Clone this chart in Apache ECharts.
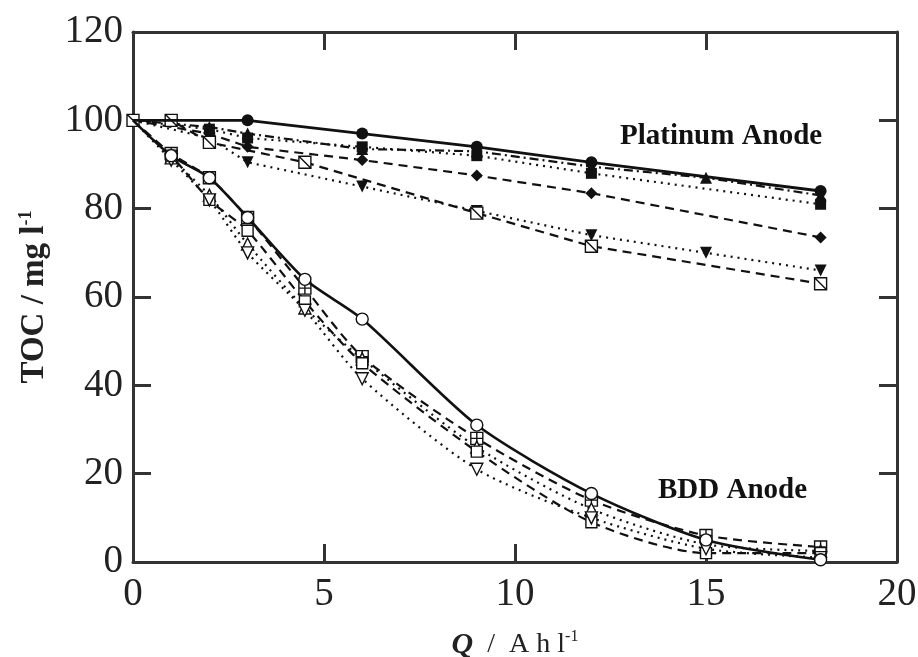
<!DOCTYPE html>
<html>
<head>
<meta charset="utf-8">
<script src="https://cdn.jsdelivr.net/npm/echarts@6/dist/echarts.min.js"></script>
<style>
  html, body { margin: 0; background: #fff; }
  #chart { width: 918px; height: 657px; }
</style>
</head>
<body>
<div id="chart"></div>
<script>
// Platinum anode (filled markers)
const ptCircleQ = [0, 3, 6, 9, 12, 18];
const ptCircleToc = [100, 100, 97, 94, 90.5, 84];
const ptTriQ = [0, 2, 3, 6, 9, 12, 15, 18];
const ptTriToc = [100, 98.5, 97, 93.5, 93, 89.5, 87, 83];
const ptSquareQ = [0, 2, 3, 6, 9, 12, 18];
const ptSquareToc = [100, 98, 96, 94, 92, 88, 81];
const ptDiamondQ = [0, 2, 3, 6, 9, 12, 18];
const ptDiamondToc = [100, 97, 94, 91, 87.5, 83.5, 73.5];
const ptInvTriQ = [0, 2, 3, 6, 9, 12, 15, 18];
const ptInvTriToc = [100, 96, 90.5, 85, 79.5, 74, 70, 66];
const ptOpenSqQ = [0, 1, 2, 4.5, 9, 12, 18];
const ptOpenSqToc = [100, 100, 95, 90.5, 79, 71.5, 63];

// BDD anode (open markers)
const bddQ = [0, 1, 2, 3, 4.5, 6, 9, 12, 15, 18];
const bddCircleToc = [100, 92, 87, 78, 64, 55, 31, 15.5, 5, 0.5];
const bddGridSqToc = [100, 92.5, 87, 78, 62, 46.5, 28, 14, 6, 3.4];
const bddTriToc = [100, 91.5, 83, 72, 57.5, 46, 26, 12, 4, 2.5];
const bddSquareToc = [100, 92, 82, 75, 59, 45, 25, 9, 2, 2];
const bddInvTriToc = [100, 91, 82, 70, 57, 41.5, 21, 10, 3, 1];

const xTicks = [0, 5, 10, 15, 20];
const yTicks = [0, 20, 40, 60, 80, 100, 120];

const FONT = "'Liberation Serif', 'DejaVu Serif', serif";
const INK = "#111";
const AXIS = "#333";

const SLASH_SQ = "path://M0,0H10V10H0Z M0,0L10,10";
const GRID_SQ = "path://M0,0H10V10H0Z M5,0V10 M0,5H10";

const DASH = [9, 6];
const DOT = [2, 5];
const DASHDOT = [9, 4, 2, 4];

const makeSeries = (name, xs, ys, opt) => ({
  name: name,
  type: "line",
  smooth: opt.smooth || 0,
  symbol: opt.symbol,
  symbolSize: opt.size || 12,
  symbolRotate: opt.rotate || 0,
  symbolKeepAspect: true,
  showAllSymbol: true,
  lineStyle: { color: INK, width: opt.width || 2.2, type: opt.line },
  itemStyle: {
    color: opt.open ? "#fff" : INK,
    borderColor: INK,
    borderWidth: opt.open ? 1.4 : 0,
  },
  emphasis: { disabled: true },
  data: xs.map((x, i) =>
    i === 0 && !opt.showFirst
      ? { value: [x, ys[i]], symbol: "none" }
      : [x, ys[i]]
  ),
  z: opt.z || 2,
});

const series = [
  makeSeries("Pt circle", ptCircleQ, ptCircleToc, { symbol: "circle", line: "solid", width: 2.8, z: 3 }),
  makeSeries("Pt triangle", ptTriQ, ptTriToc, { symbol: "triangle", line: DASHDOT }),
  makeSeries("Pt square", ptSquareQ, ptSquareToc, { symbol: "rect", line: DOT, size: 11 }),
  makeSeries("Pt diamond", ptDiamondQ, ptDiamondToc, { symbol: "diamond", line: DASH }),
  makeSeries("Pt inv triangle", ptInvTriQ, ptInvTriToc, { symbol: "triangle", rotate: 180, line: DOT }),
  makeSeries("Pt open square", ptOpenSqQ, ptOpenSqToc, { symbol: SLASH_SQ, open: true, line: DASH, showFirst: true }),
  makeSeries("BDD circle", bddQ, bddCircleToc, { symbol: "circle", open: true, line: "solid", width: 2.6, smooth: 0.25, z: 3 }),
  makeSeries("BDD grid square", bddQ, bddGridSqToc, { symbol: GRID_SQ, open: true, line: DASH, smooth: 0.25 }),
  makeSeries("BDD triangle", bddQ, bddTriToc, { symbol: "triangle", open: true, line: DOT, smooth: 0.25 }),
  makeSeries("BDD square", bddQ, bddSquareToc, { symbol: "rect", open: true, line: DASH, smooth: 0.25, size: 11 }),
  makeSeries("BDD inv triangle", bddQ, bddInvTriToc, { symbol: "triangle", rotate: 180, open: true, line: DOT, smooth: 0.25 }),
];

const axisLine = { show: true, onZero: false, lineStyle: { color: AXIS, width: 3 } };
const axisTick = { show: true, inside: true, length: 18, lineStyle: { color: AXIS, width: 3 } };

const option = {
  animation: false,
  backgroundColor: "#fff",
  grid: { left: 133, right: 21, top: 32, bottom: 95, containLabel: false, outerBoundsMode: "none" },
  xAxis: [
    {
      type: "value",
      position: "bottom",
      min: xTicks[0],
      max: xTicks[xTicks.length - 1],
      interval: xTicks[1] - xTicks[0],
      axisLine: axisLine,
      axisTick: axisTick,
      splitLine: { show: false },
      axisLabel: { fontFamily: FONT, fontSize: 39, color: "#222", margin: 13 },
      name: "{q|Q}{t|  /  A h l}{s|-1}",
      nameLocation: "middle",
      nameGap: 67,
      nameTextStyle: {
        fontFamily: FONT,
        color: "#222",
        rich: {
          q: { fontFamily: FONT, fontSize: 30, fontWeight: "bold", fontStyle: "italic", color: "#222" },
          t: { fontFamily: FONT, fontSize: 28, color: "#222" },
          s: { fontFamily: FONT, fontSize: 16, color: "#222", padding: [0, 0, 16, 0] },
        },
      },
    },
    {
      type: "value",
      position: "top",
      min: xTicks[0],
      max: xTicks[xTicks.length - 1],
      interval: xTicks[1] - xTicks[0],
      axisLine: axisLine,
      axisTick: axisTick,
      axisLabel: { show: false },
      splitLine: { show: false },
    },
  ],
  yAxis: [
    {
      type: "value",
      position: "left",
      min: yTicks[0],
      max: yTicks[yTicks.length - 1],
      interval: yTicks[1] - yTicks[0],
      axisLine: axisLine,
      axisTick: axisTick,
      splitLine: { show: false },
      axisLabel: { fontFamily: FONT, fontSize: 39, color: "#222", margin: 10 },
      name: "{t|TOC / mg l}{s|-1}",
      nameLocation: "middle",
      nameGap: 82,
      nameTextStyle: {
        fontFamily: FONT,
        rich: {
          t: { fontFamily: FONT, fontSize: 33, fontWeight: "bold", color: "#222" },
          s: { fontFamily: FONT, fontSize: 18, fontWeight: "bold", color: "#222", padding: [0, 0, 16, 0] },
        },
      },
    },
    {
      type: "value",
      position: "right",
      min: yTicks[0],
      max: yTicks[yTicks.length - 1],
      interval: yTicks[1] - yTicks[0],
      axisLine: axisLine,
      axisTick: axisTick,
      axisLabel: { show: false },
      splitLine: { show: false },
    },
  ],
  graphic: [
    {
      type: "text",
      left: 620,
      top: 122,
      style: { text: "Platinum Anode", font: "bold 29px " + FONT, fill: "#111" },
    },
    {
      type: "text",
      left: 658,
      top: 476,
      style: { text: "BDD Anode", font: "bold 29px " + FONT, fill: "#111" },
    },
  ],
  series: series,
};

const chart = echarts.init(document.getElementById("chart"));
chart.setOption(option);
window.addEventListener("resize", () => chart.resize());
</script>
</body>
</html>
